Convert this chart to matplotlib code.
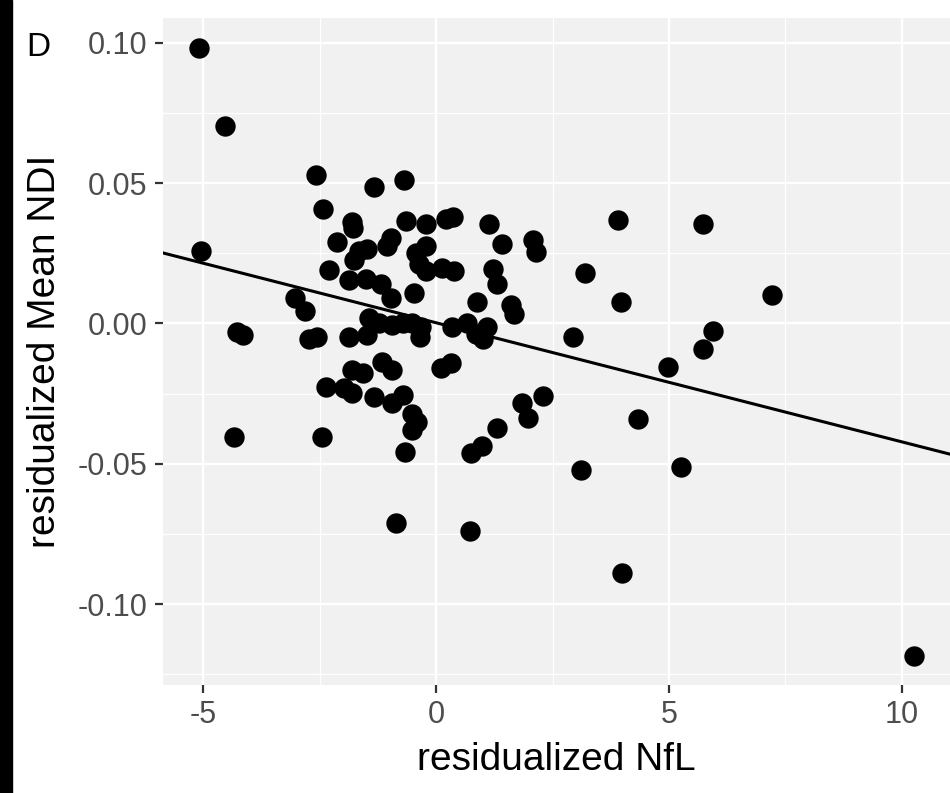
import numpy as np
import matplotlib
matplotlib.use('Agg')
import matplotlib.pyplot as plt
from matplotlib.patches import Rectangle
from matplotlib.ticker import MultipleLocator

plt.rcParams['font.family'] = ['Liberation Sans', 'DejaVu Sans']

# residualized NfL (x) and residualized Mean NDI (y)
nfl = [-5.10, -4.54, -5.06, -4.28, -4.16, -4.35, -2.58, -2.43, -3.04, -2.82,
       -2.73, -2.56, -2.45, -2.37, -1.98, -1.81, -1.33, -0.95, -0.71, -0.52,
       -0.41, -0.52, -0.67, -0.86, -2.13, -2.30, -1.87, -1.51, -1.18, -0.97,
       -0.47, -1.81, -1.79, -1.33, -0.69, -0.65, -0.22, 0.22, 0.37, -1.66,
       -1.49, -1.77, -1.05, -0.97, -0.43, -0.37, -0.22, -0.22, 0.13, 0.39,
       -1.87, -1.49, -1.44, -1.23, -0.95, -0.71, -0.52, -0.34, -0.32, -1.81,
       -1.57, -1.16, -0.95, 0.11, 0.32, 0.34, 0.67, 0.86, 1.01, 1.10,
       0.88, 1.14, 1.42, 2.07, 2.15, 1.21, 1.31, 1.61, 1.68, 1.31,
       0.75, 0.99, 0.73, 1.85, 1.98, 2.30, 2.93, 3.19, 3.90, 3.98,
       5.73, 7.21, 5.94, 5.73, 4.99, 4.33, 3.12, 5.25, 4.00, 10.27]
ndi = [0.0980, 0.0703, 0.0259, -0.0032, -0.0043, -0.0405, 0.0529, 0.0409, 0.0092, 0.0043,
       -0.0057, -0.0050, -0.0405, -0.0227, -0.0231, -0.0249, -0.0263, -0.0284, -0.0256, -0.0323,
       -0.0352, -0.0380, -0.0458, -0.0710, 0.0291, 0.0192, 0.0156, 0.0160, 0.0142, 0.0089,
       0.0107, 0.0362, 0.0341, 0.0487, 0.0512, 0.0366, 0.0355, 0.0373, 0.0380, 0.0259,
       0.0266, 0.0227, 0.0277, 0.0306, 0.0252, 0.0213, 0.0185, 0.0277, 0.0199, 0.0188,
       -0.0050, -0.0043, 0.0021, 0.0000, -0.0007, 0.0000, 0.0000, -0.0050, -0.0014, -0.0167,
       -0.0178, -0.0139, -0.0167, -0.0160, -0.0142, -0.0014, 0.0000, -0.0036, -0.0057, -0.0014,
       0.0075, 0.0355, 0.0284, 0.0298, 0.0256, 0.0195, 0.0139, 0.0067, 0.0032, -0.0373,
       -0.0462, -0.0437, -0.0739, -0.0284, -0.0337, -0.0259, -0.0050, 0.0178, 0.0369, 0.0075,
       0.0355, 0.0103, -0.0028, -0.0092, -0.0156, -0.0341, -0.0522, -0.0512, -0.0888, -0.1183]

x = np.array(nfl)
y = np.array(ndi)

fig = plt.figure(figsize=(9.5, 7.93), dpi=100)
ax = fig.add_axes([163/950, (793-685)/793, 787/950, 667/793])
ax.set_facecolor('#F1F1F1')
for s in ax.spines.values():
    s.set_visible(False)

ax.set_xlim(-5.87, 11.04)
ax.set_ylim(-0.1288, 0.1088)
ax.xaxis.set_minor_locator(MultipleLocator(2.5))
ax.yaxis.set_minor_locator(MultipleLocator(0.025))
ax.set_xticks([-5, 0, 5, 10])
ax.set_xticklabels(['-5', '0', '5', '10'])
ax.set_yticks([-0.10, -0.05, 0.0, 0.05, 0.10])
ax.set_yticklabels(['-0.10', '-0.05', '0.00', '0.05', '0.10'])

ax.grid(which='major', color='white', lw=1.7)
ax.grid(which='minor', color='white', lw=0.9)
ax.set_axisbelow(True)
ax.tick_params(which='major', length=6, width=1.6, color='#333333',
               labelsize=22, labelcolor='#4D4D4D', pad=5)
ax.tick_params(which='minor', length=0)

ax.scatter(x, y, s=215, color='black', linewidths=0, zorder=3)

# linear fit like geom_smooth(method='lm', se=FALSE)
slope, intercept = np.polyfit(x, y, 1)
xs = np.array(ax.get_xlim())
ax.plot(xs, intercept + slope * xs, color='black', lw=2.2, zorder=4)

ax.set_xlabel('residualized NfL', fontsize=28, color='black', va='center')
ax.xaxis.set_label_coords(0.5, -0.112)
ax.set_ylabel('residualized Mean NDI', fontsize=28, color='black', va='center')
ax.yaxis.set_label_coords(-0.15, 0.5)

fig.patches.append(Rectangle((0, 0), 11.5/950, 1, transform=fig.transFigure,
                             color='black', zorder=10))
fig.text(38/950, 1 - 48/793, 'D', fontsize=24, ha='center', va='center')

fig.savefig('out.png', dpi=100)
